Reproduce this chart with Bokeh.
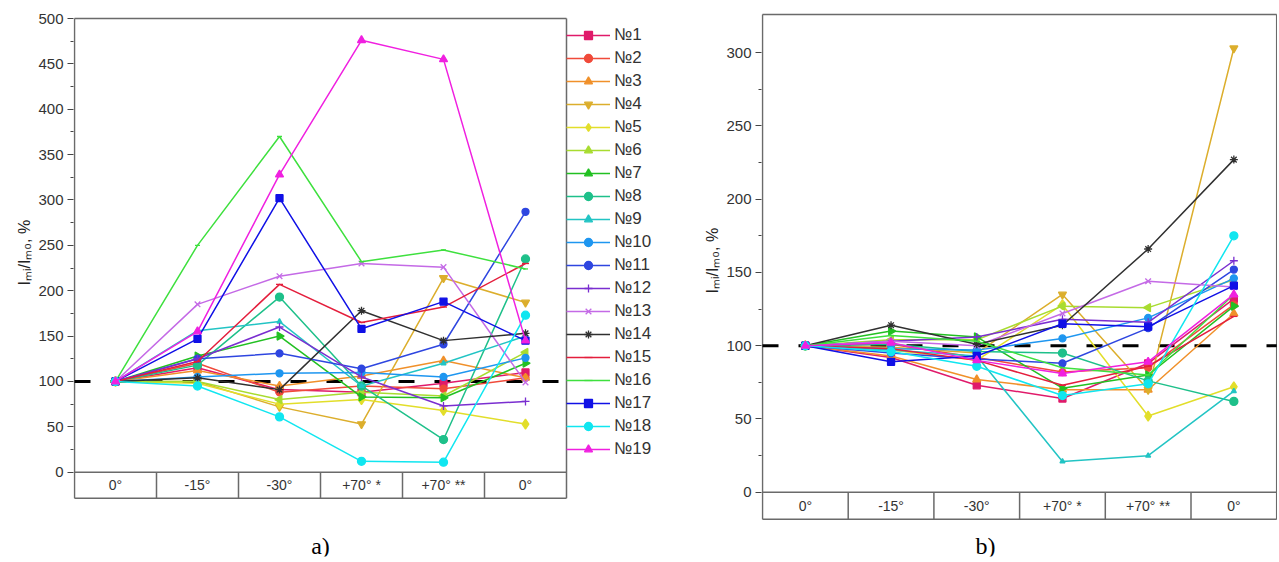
import math
from bokeh.plotting import figure
from bokeh.models import Legend, LegendItem, Title, FixedTicker, Range1d
from bokeh.layouts import row
from bokeh.embed import file_html
from bokeh.resources import INLINE
from bokeh.core.properties import value

# ---------------- data ----------------
categories = ["0°", "-15°", "-30°", "+70° *", "+70° **", "0°"]
series_names = ["№1", "№2", "№3", "№4", "№5", "№6", "№7", "№8", "№9", "№10",
                "№11", "№12", "№13", "№14", "№15", "№16", "№17", "№18", "№19"]

# panel a) : Imi/Im0, %
values_a = [
    [100, 115, 91, 88, 98, 110],    # 1
    [100, 120, 88, 95, 92, 104],    # 2
    [100, 112, 95, 106, 123, 104],  # 3
    [100, 100, 72, 53, 214, 187],   # 4
    [100, 98, 75, 80, 68, 53],      # 5
    [100, 100, 80, 88, 84, 132],    # 6
    [100, 128, 150, 83, 82, 120],   # 7
    [100, 118, 193, 95, 36, 235],   # 8
    [100, 156, 166, 95, 120, 150],  # 9
    [100, 105, 109, 110, 105, 126], # 10
    [100, 125, 131, 114, 141, 287], # 11
    [100, 125, 160, 105, 73, 78],   # 12
    [100, 185, 216, 230, 226, 99],  # 13
    [100, 104, 91, 178, 145, 153],  # 14
    [100, 122, 207, 165, 182, 230], # 15
    [100, 250, 370, 232, 245, 224], # 16
    [100, 147, 302, 158, 188, 145], # 17
    [100, 95, 61, 12, 11, 173],     # 18
    [100, 155, 328, 476, 455, 145], # 19
]

# panel b)
values_b = [
    [100, 92, 73, 64, 88, 132],     # 1
    [100, 101, 92, 82, 85, 128],    # 2
    [100, 93, 77, 70, 70, 122],     # 3
    [100, 99, 95, 135, 70, 303],    # 4
    [100, 97, 90, 128, 52, 72],     # 5
    [100, 104, 104, 127, 126, 145], # 6
    [100, 110, 106, 71, 80, 127],   # 7
    [100, 101, 96, 95, 76, 62],     # 8
    [100, 97, 93, 21, 25, 69],      # 9
    [100, 98, 97, 105, 119, 146],   # 10
    [100, 95, 91, 88, 112, 152],    # 11
    [100, 103, 106, 118, 116, 158], # 12
    [100, 103, 100, 122, 144, 140], # 13
    [100, 114, 101, 114, 166, 227], # 14
    [100, 98, 90, 73, 86, 120],     # 15
    [100, 107, 103, 85, 80, 135],   # 16
    [100, 89, 93, 115, 113, 141],   # 17
    [100, 96, 86, 66, 74, 175],     # 18
    [100, 102, 90, 81, 89, 135],    # 19
]

reference_level = 100
y_ticks_a = list(range(0, 501, 50))
y_minor_a = list(range(25, 500, 50))
y_ticks_b = list(range(0, 301, 50))
y_minor_b = list(range(25, 301, 50))
y_label = "Iₘᵢ/Iₘ₀, %"

# ---------------- styles / layout (pixels) ----------------
colors = ["#e01a6a", "#f04a3a", "#f0902a", "#dcae2c", "#e2de2a", "#a8dc30",
          "#22c022", "#1ec08a", "#22c4c4", "#1e96f0", "#2e46e0", "#7a2ed0",
          "#c46ae6", "#303030", "#e41e3c", "#3ee03e", "#1010e6", "#10e6f0", "#f020e0"]
markers = [("square", 7, 0), ("circle", 7, 0), ("triangle", 8, 0),
           ("inverted_triangle", 8, 0), ("diamond", 10, 0),
           ("triangle", 8, math.pi / 2), ("triangle", 8, -math.pi / 2),
           ("circle", 8, 0), ("triangle", 5, 0), ("circle", 7, 0),
           ("circle", 7, 0), ("cross", 8, 0), ("x", 8, 0), ("asterisk", 8, 0),
           ("dash", 7, 0), ("dash", 5, 0), ("square", 7, 0), ("circle", 8, 0),
           ("triangle", 8, 0)]

FONT = "Liberation Sans"
FRAME = "#6a6a6a"
H = 558
B_TOP, B_BOTTOM = 11, 2
FRAME_TOP = B_TOP + 1
FRAME_BOTTOM = H - B_BOTTOM - 1


def draw_series(p, xs, ys, i):
    c = colors[i]
    m, s, a = markers[i]
    r1 = p.line(xs, ys, line_color=c, line_width=1.5)
    r2 = p.scatter(xs, ys, marker=m, size=s, angle=a, fill_color=c,
                   line_color=c, line_width=1.3)
    return [r1, r2]


def make_panel(vals, ticks, minor, page_x0, zero_px, ppu, box_top_px, box_bottom_px,
               left_px, col_px, width, tag, tag_px, label_start_px):
    n = len(categories)
    # data <-> pixel relations
    y_end = (zero_px - FRAME_TOP) / ppu
    y_start = (zero_px - FRAME_BOTTOM) / ppu
    box_top = (zero_px - box_top_px) / ppu
    box_bottom = (zero_px - box_bottom_px) / ppu
    x_start = -0.5 - 1.0 / col_px
    frame_w = width - left_px
    x_end = x_start + frame_w / col_px

    p = figure(output_backend="svg", toolbar_location=None,
               width=width, height=H,
               min_border_left=left_px, min_border_right=0,
               min_border_top=B_TOP, min_border_bottom=B_BOTTOM,
               x_range=Range1d(x_start, x_end), y_range=Range1d(y_start, y_end),
               x_axis_location=None, background_fill_color="white",
               border_fill_color="white")
    p.grid.visible = False
    p.outline_line_color = None

    ax = p.yaxis[0]
    ax.ticker = FixedTicker(ticks=ticks, minor_ticks=minor)
    ax.axis_line_color = None
    ax.major_tick_out = 6
    ax.major_tick_in = 0
    ax.minor_tick_out = 3
    ax.minor_tick_in = 0
    ax.major_tick_line_color = "#444"
    ax.minor_tick_line_color = "#444"
    ax.major_tick_line_width = 1.2
    ax.major_label_text_font = FONT
    ax.major_label_text_font_size = "15px"
    ax.major_label_text_color = "#333"
    ax.major_label_standoff = 4

    p.add_layout(Title(text=y_label, align="left",
                       offset=FRAME_BOTTOM - label_start_px,
                       standoff=6, text_font=FONT, text_font_size="16px",
                       text_font_style="normal", text_color="#222"), "left")

    # frame box with category strip
    lo, hi = -0.5, n - 0.5
    p.segment(x0=[lo, lo, lo, lo, hi], y0=[box_top, box_bottom, 0, box_bottom, box_bottom],
              x1=[hi, hi, hi, lo, hi], y1=[box_top, box_bottom, 0, box_top, box_top],
              line_color=FRAME, line_width=1.5)
    seps = [i + 0.5 for i in range(n - 1)]
    p.segment(x0=seps, y0=[box_bottom] * len(seps), x1=seps, y1=[0] * len(seps),
              line_color=FRAME, line_width=1.5)
    p.text(x=list(range(n)), y=[box_bottom / 2] * n, text=categories,
           text_font=value(FONT), text_font_size="14px", text_color="#333",
           text_align="center", text_baseline="middle")

    # reference dashed line
    p.line([lo, hi], [reference_level, reference_level], line_color="black",
           line_width=3, line_dash="16 20")

    items = []
    xs = list(range(n))
    for i, ys in enumerate(vals):
        rs = draw_series(p, xs, ys, i)
        items.append(LegendItem(label=series_names[i], renderers=rs))

    # panel tag
    tag_x = (tag_px - page_x0 - left_px) / col_px + x_start
    p.text(x=[tag_x], y=[(zero_px - 545) / ppu], text=[tag],
           text_font=value("Liberation Serif"), text_font_size="24px",
           text_color="black", text_align="center", text_baseline="middle")
    return p, items


pa, items_a = make_panel(values_a, y_ticks_a, y_minor_a, 0, 471, 0.904, 19, 497,
                         73, 82.0, 690, "a)", 320, 284)
pb, _ = make_panel(values_b, y_ticks_b, y_minor_b, 690, 491, 1.46, 15, 518,
                   71, 85.7, 587, "b)", 985, 292)

lg = Legend(items=items_a, location=(493, FRAME_BOTTOM - 457.5))
lg.border_line_color = None
lg.background_fill_alpha = 0
lg.label_text_font = FONT
lg.label_text_font_size = "17px"
lg.label_text_color = "#333"
lg.glyph_width = 44
lg.glyph_height = 20
lg.label_height = 20
lg.spacing = 3
lg.padding = 2
lg.margin = 0
lg.label_standoff = 4
pa.add_layout(lg, "center")

layout = row(pa, pb, spacing=0)
open("out.html", "w").write(file_html(layout, INLINE))
